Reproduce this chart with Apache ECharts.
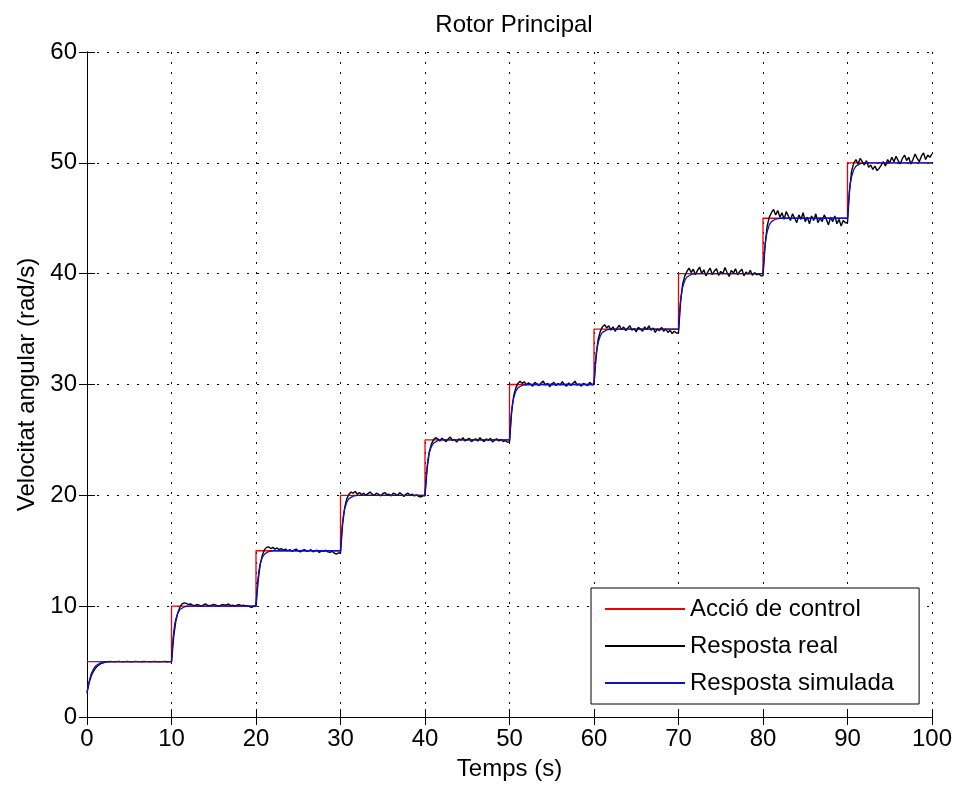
<!DOCTYPE html>
<html>
<head>
<meta charset="utf-8">
<script src="https://cdn.jsdelivr.net/npm/echarts@6/dist/echarts.min.js"></script>
<style>html,body{margin:0;padding:0;background:#fff}#c{width:955px;height:787px}</style>
</head>
<body>
<div id="c"></div>
<script>
var xTicks = [0,10,20,30,40,50,60,70,80,90,100];
var yTicks = [0,10,20,30,40,50,60];
var seriesNames = ['Acció de control','Resposta real','Resposta simulada'];

// Control action (step reference)
var controlTimes  = [0,10,10,20,20,30,30,40,40,50,50,60,60,70,70,80,80,90,90,100];
var controlValues = [5,5,10,10,15,15,20,20,25,25,30,30,35,35,40,40,45,45,50,50];

// Simulated response
var simTimes = [0,0.1,0.2,0.35,0.5,0.75,1,1.5,2,3,
  10,10.1,10.2,10.35,10.5,10.75,11,11.5,12,
  20,20.1,20.2,20.35,20.5,20.75,21,21.5,22,
  30,30.1,30.2,30.35,30.5,30.75,31,31.5,32,
  40,40.1,40.2,40.35,40.5,40.75,41,41.5,42,
  50,50.1,50.2,50.35,50.5,50.75,51,51.5,52,
  60,60.1,60.2,60.35,60.5,60.75,61,61.5,62,
  70,70.1,70.2,70.35,70.5,70.75,71,71.5,72,
  80,80.1,80.2,80.35,80.5,80.75,81,81.5,82,
  90,90.1,90.2,90.35,90.5,90.75,91,91.5,92,100];
var simValues = [2.2,2.6,3.0,3.5,3.9,4.3,4.6,4.85,4.95,5,
  5,6.2,7.2,8.2,8.8,9.4,9.7,9.93,10,
  10,11.2,12.2,13.2,13.8,14.4,14.7,14.93,15,
  15,16.2,17.2,18.2,18.8,19.4,19.7,19.93,20,
  20,21.2,22.2,23.2,23.8,24.4,24.7,24.93,25,
  25,26.2,27.2,28.2,28.8,29.4,29.7,29.93,30,
  30,31.2,32.2,33.2,33.8,34.4,34.7,34.93,35,
  35,36.2,37.2,38.2,38.8,39.4,39.7,39.93,40,
  40,41.2,42.2,43.2,43.8,44.4,44.7,44.93,45,
  45,46.2,47.2,48.2,48.8,49.4,49.7,49.93,50,50];

// Real (measured) response, sampled every 0.25 s from t = 0
var realStart = 0, realDt = 0.25;
var realValues = [
  2.2,3.1,3.7,4.1,4.4,4.6,4.75,4.85,4.92,4.97,5.0,5.02,5.0,4.98,5.0,5.01,5.0,4.99,5.0,5.02,5.0,4.98,5.0,5.01,5.0,5.0,4.99,5.01,5.0,5.0,4.98,5.0,5.02,5.0,4.99,5.0,5.0,5.01,4.99,5.0,
  5.0,7.2,8.6,9.4,9.9,10.2,10.3,10.25,10.15,10.2,10.1,10.05,10.15,10.1,10.0,10.1,10.2,10.1,10.05,10.1,10.15,10.1,10.0,10.05,10.15,10.1,10.1,10.2,10.05,10.1,10.0,10.1,10.15,10.05,10.1,10.0,10.05,9.95,9.9,10.0,
  10.0,12.3,13.8,14.6,15.1,15.3,15.35,15.2,15.3,15.15,15.25,15.1,15.2,15.05,15.15,15.0,15.1,14.95,15.05,15.15,15.0,14.9,15.05,15.1,14.95,15.0,15.1,14.9,15.0,15.05,14.85,15.0,14.95,15.05,14.9,14.85,14.95,14.8,14.7,14.8,
  14.8,17.4,18.9,19.7,20.1,20.3,20.2,20.35,20.1,20.25,20.05,20.2,20.0,20.15,20.3,20.1,20.0,20.2,20.1,19.95,20.15,20.25,20.05,20.1,19.95,20.2,20.1,20.0,20.25,20.1,19.9,20.1,20.2,20.0,20.1,19.95,20.05,19.9,19.85,19.95,
  19.95,22.4,23.9,24.6,25.0,25.2,25.1,24.9,25.15,25.0,24.85,25.1,25.25,24.95,25.05,24.8,25.1,25.0,25.2,24.9,25.05,25.15,24.85,25.0,25.1,24.9,25.2,25.0,24.85,25.1,24.95,25.15,24.8,25.0,25.1,24.9,25.05,24.85,24.95,24.8,
  24.8,27.5,29.0,29.7,30.1,30.3,30.1,30.25,29.95,30.15,30.0,29.85,30.2,30.05,29.9,30.15,30.3,29.95,30.1,29.8,30.05,30.2,29.9,30.1,29.95,30.25,30.0,29.85,30.15,29.9,30.1,30.3,29.95,30.05,29.85,30.1,30.0,29.9,30.2,30.0,
  30.0,32.6,34.1,34.8,35.2,35.4,35.1,35.3,34.9,35.2,34.8,35.1,35.35,34.95,35.2,34.85,35.1,35.3,34.9,35.05,34.75,35.15,35.0,34.8,35.2,34.95,35.3,34.9,35.1,34.7,35.0,34.85,35.15,34.8,35.0,34.7,34.9,34.6,34.8,34.65,
  34.65,37.5,39.1,39.8,40.2,40.5,40.1,40.4,39.9,40.3,40.6,40.0,40.35,39.8,40.2,40.5,39.9,40.25,40.45,39.85,40.2,40.0,40.55,40.1,39.75,40.3,40.05,40.45,39.9,40.2,40.4,39.8,40.15,39.95,40.3,39.85,40.1,39.9,40.0,39.8,
  39.8,42.6,44.3,45.1,45.5,45.8,45.3,45.7,45.1,45.5,44.9,45.6,45.2,44.8,45.4,45.0,44.6,45.3,44.9,45.5,44.7,45.1,44.5,45.2,44.8,45.4,44.6,45.0,44.7,45.3,44.9,44.4,45.1,44.7,45.2,44.5,44.9,44.3,44.8,44.6,
  44.6,47.6,49.3,50.0,50.3,49.9,50.4,50.1,49.8,50.2,49.6,49.8,49.4,49.7,49.3,49.5,49.8,50.1,49.7,50.3,50.0,50.5,50.1,50.6,50.2,49.9,50.4,50.7,50.2,50.5,49.9,50.3,50.8,50.4,50.1,50.6,50.9,50.3,50.7,50.5,50.8
];

function zip(a, b) { return a.map(function (v, i) { return [v, b[i]]; }); }
var controlData = zip(controlTimes, controlValues);
var simData = zip(simTimes, simValues);
var realData = realValues.map(function (v, i) { return [realStart + i * realDt, v]; });

var FONT = "'Liberation Sans', Arial, Helvetica, sans-serif";
var chart = echarts.init(document.getElementById('c'), null, { renderer: 'canvas' });

var axisCommon = {
  axisLine: { show: true, lineStyle: { color: '#000', width: 1 } },
  axisTick: { show: true, inside: true, length: 8, lineStyle: { color: '#000', width: 1 } }
};

var BLUE = '#1010c0';

chart.setOption({
  animation: false,
  backgroundColor: '#fff',
  title: {
    text: 'Rotor Principal', left: 509, top: 8, textAlign: 'center',
    textStyle: { fontFamily: FONT, fontSize: 24, fontWeight: 'normal', color: '#000' }
  },
  legend: {
    data: seriesNames,
    orient: 'vertical',
    left: 591, top: 588,
    padding: [9, 25, 9, 14],
    itemGap: 13,
    itemWidth: 80, itemHeight: 2,
    icon: 'rect',
    borderColor: '#000', borderWidth: 1,
    backgroundColor: '#fff',
    textStyle: { fontFamily: FONT, fontSize: 24, color: '#000', padding: [0, 0, 0, 0] }
  },
  grid: { left: 87, right: 23, top: 52, bottom: 70, containLabel: false },
  xAxis: [
    Object.assign({
      type: 'value', min: 0, max: 100, interval: 10, position: 'bottom',
      name: 'Temps (s)', nameLocation: 'middle', nameGap: 40,
      nameTextStyle: { fontFamily: FONT, fontSize: 24, color: '#000' },
      axisLabel: { margin: 10, fontFamily: FONT, fontSize: 24, color: '#000',
        formatter: function (v) { return xTicks.indexOf(v) >= 0 ? String(v) : ''; } },
      splitLine: { show: true, lineStyle: { color: '#000', width: 1, type: [2, 8] } }
    }, axisCommon),
    Object.assign({
      type: 'value', min: 0, max: 100, interval: 10, position: 'top',
      axisLabel: { show: false }, splitLine: { show: false }
    }, axisCommon)
  ],
  yAxis: [
    Object.assign({
      type: 'value', min: 0, max: 60, interval: 10, position: 'left',
      name: 'Velocitat angular (rad/s)', nameLocation: 'middle', nameGap: 48,
      nameTextStyle: { fontFamily: FONT, fontSize: 24, color: '#000' },
      axisLabel: { margin: 10, fontFamily: FONT, fontSize: 24, color: '#000',
        formatter: function (v) { return yTicks.indexOf(v) >= 0 ? String(v) : ''; } },
      splitLine: { show: true, lineStyle: { color: '#000', width: 1, type: [2, 8] } }
    }, axisCommon),
    Object.assign({
      type: 'value', min: 0, max: 60, interval: 10, position: 'right',
      axisLabel: { show: false }, splitLine: { show: false }
    }, axisCommon)
  ],
  series: [
    { name: seriesNames[0], type: 'line', data: controlData, showSymbol: false, color: '#ee0000',
      lineStyle: { color: '#ee0000', width: 1.3 }, itemStyle: { color: '#ee0000' }, z: 2 },
    { name: seriesNames[1], type: 'line', data: realData, showSymbol: false, color: '#000000',
      lineStyle: { color: '#000000', width: 1.4 }, itemStyle: { color: '#000000' }, z: 3 },
    { name: seriesNames[2], type: 'line', data: simData, showSymbol: false, color: BLUE,
      lineStyle: { color: BLUE, width: 1.3 }, itemStyle: { color: BLUE }, z: 4 }
  ]
});
</script>
</body>
</html>
